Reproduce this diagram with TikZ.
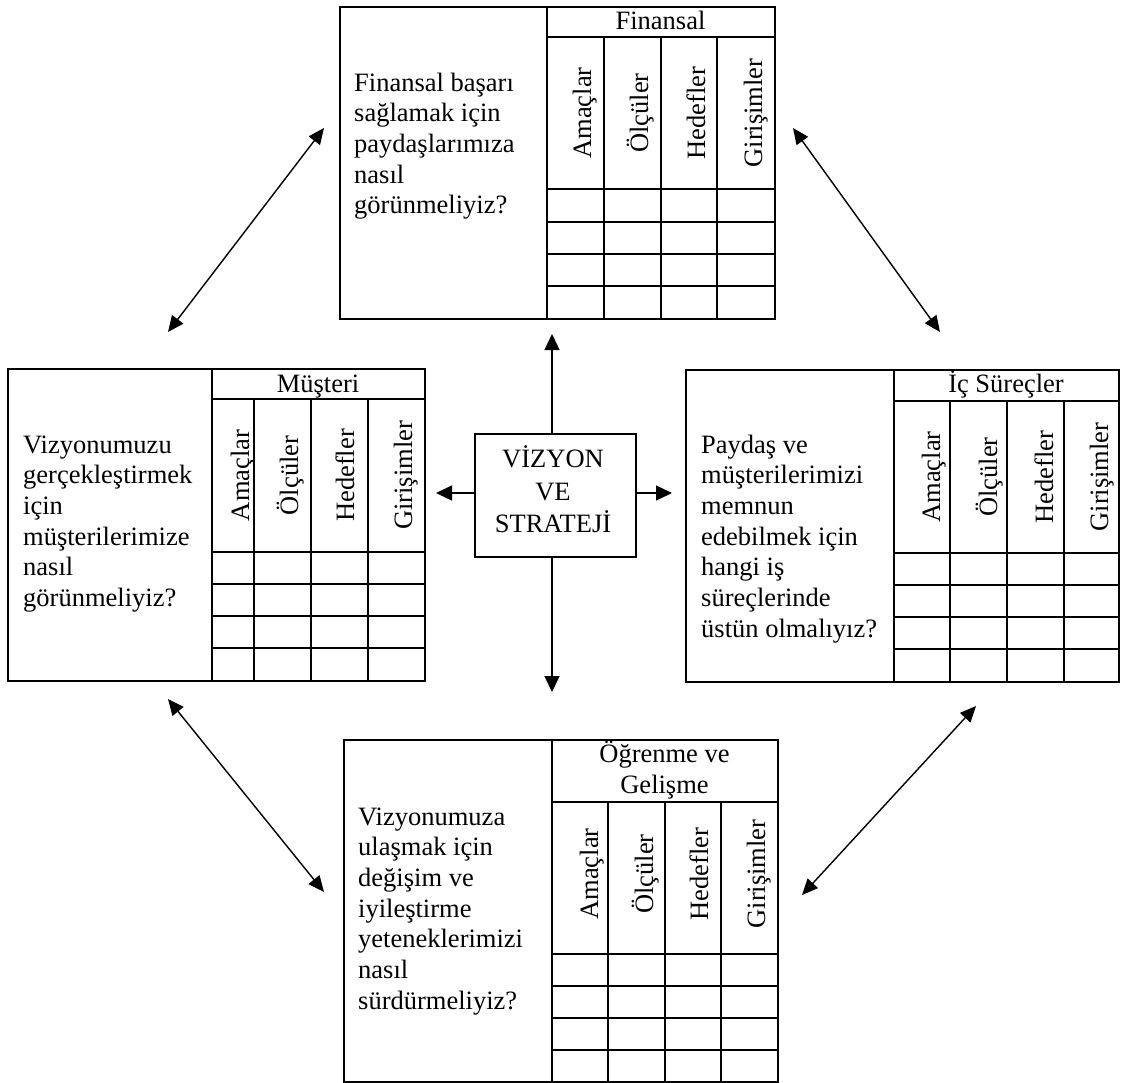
\documentclass[tikz,border=0pt]{standalone}
\usepackage{fontspec}
\setmainfont{Liberation Serif}
\usetikzlibrary{arrows.meta}
\tikzset{
  txt/.style={inner sep=0pt, font=\fontsize{26.5pt}{30.7pt}\selectfont},
  panel/.style={draw, line width=1.9pt, anchor=north west, inner sep=0pt},
  tbl/.style={line width=1.8pt},
  vlab/.style={txt, rotate=90, anchor=base},
  hlab/.style={txt, anchor=base},
  qline/.style={txt, anchor=base west},
  arr/.style={line width=1.4pt, -{Triangle[length=16pt,width=15pt]}},
  darr/.style={line width=1.4pt, {Triangle[length=16pt,width=14pt]}-{Triangle[length=16pt,width=14pt]}}
}
\begin{document}
\begin{tikzpicture}[x=1pt,y=-1pt]
\useasboundingbox (0,0) rectangle (1121,1082);

% ---------- Finansal (top) ----------
\node[panel, minimum width=435pt, minimum height=312pt] (fin) at (339,6) {};
\draw[tbl] (547,6) -- (547,318);
\draw[tbl] (547,37) -- (774,37);
\foreach \c in {604,661,717} \draw[tbl] (\c,37) -- (\c,318);
\foreach \r in {189,222,254,286} \draw[tbl] (547,\r) -- (774,\r);
\node[hlab] (finh) at (660.5,29) {Finansal};
\node[vlab] (fin1) at (591,113) {Amaçlar};
\node[vlab] (fin2) at (648,113) {Ölçüler};
\node[vlab] (fin3) at (705,113) {Hedefler};
\node[vlab] (fin4) at (762,113) {Girişimler};
\foreach \t [count=\i from 0] in {Finansal başarı, sağlamak için, paydaşlarımıza, nasıl, görünmeliyiz?}
  \node[qline] (finq\i) at (354,91+30.7*\i) {\t};

% ---------- Müşteri (left) ----------
\node[panel, minimum width=417pt, minimum height=312pt] (mus) at (7,368) {};
\draw[tbl] (212,368) -- (212,680);
\draw[tbl] (212,399) -- (424,399);
\foreach \c in {254,311,368} \draw[tbl] (\c,399) -- (\c,680);
\foreach \r in {552,584,616,648} \draw[tbl] (212,\r) -- (424,\r);
\node[hlab] (mush) at (318,392) {Müşteri};
\node[vlab] (mus1) at (249,475.5) {Amaçlar};
\node[vlab] (mus2) at (298,475.5) {Ölçüler};
\node[vlab] (mus3) at (354,475.5) {Hedefler};
\node[vlab] (mus4) at (412,475.5) {Girişimler};
\foreach \t [count=\i from 0] in {Vizyonumuzu, gerçekleştirmek, için, müşterilerimize, nasıl, görünmeliyiz?}
  \node[qline] (musq\i) at (23,453+30.7*\i) {\t};

% ---------- İç Süreçler (right) ----------
\node[panel, minimum width=433pt, minimum height=312pt] (ics) at (685,369) {};
\draw[tbl] (894,369) -- (894,681);
\draw[tbl] (894,401) -- (1118,401);
\foreach \c in {950,1007,1064} \draw[tbl] (\c,401) -- (\c,681);
\foreach \r in {553,585,617,649} \draw[tbl] (894,\r) -- (1118,\r);
\node[hlab] (icsh) at (1006,392) {İç Süreçler};
\node[vlab] (ics1) at (940,477) {Amaçlar};
\node[vlab] (ics2) at (997,477) {Ölçüler};
\node[vlab] (ics3) at (1053,477) {Hedefler};
\node[vlab] (ics4) at (1108,477) {Girişimler};
\foreach \t [count=\i from 0] in {Paydaş ve, müşterilerimizi, memnun, edebilmek için, hangi iş, süreçlerinde, üstün olmalıyız?}
  \node[qline] (icsq\i) at (701,453+30.7*\i) {\t};

% ---------- Öğrenme ve Gelişme (bottom) ----------
\node[panel, minimum width=434pt, minimum height=342pt] (ogr) at (343,739) {};
\draw[tbl] (552,739) -- (552,1081);
\draw[tbl] (552,802) -- (777,802);
\foreach \c in {608,665,721} \draw[tbl] (\c,802) -- (\c,1081);
\foreach \r in {954,986,1018,1050} \draw[tbl] (552,\r) -- (777,\r);
\node[hlab] (ogrh1) at (664.5,762) {Öğrenme ve};
\node[hlab] (ogrh2) at (664.5,793) {Gelişme};
\node[vlab] (ogr1) at (598,874) {Amaçlar};
\node[vlab] (ogr2) at (653,874) {Ölçüler};
\node[vlab] (ogr3) at (708,874) {Hedefler};
\node[vlab] (ogr4) at (765,874) {Girişimler};
\foreach \t [count=\i from 0] in {Vizyonumuza, ulaşmak için, değişim ve, iyileştirme, yeteneklerimizi, nasıl, sürdürmeliyiz?}
  \node[qline] (ogrq\i) at (358,825+30.7*\i) {\t};

% ---------- Vizyon ve Strateji (center) ----------
\node[panel, minimum width=161pt, minimum height=123pt] (vs) at (474,433) {};
\node[hlab] (vs1) at (553,467) {VİZYON};
\node[hlab] (vs2) at (553,500) {VE};
\node[hlab] (vs3) at (553,532.5) {STRATEJİ};

\coordinate (upT) at (552,334);
\coordinate (dnT) at (552,692);
\coordinate (lfT) at (436,493);
\coordinate (rtT) at (672,493);
\draw[arr] (vs.north -| upT) -- (upT);
\draw[arr] (vs.south -| dnT) -- (dnT);
\draw[arr] (vs.west |- lfT) -- (lfT);
\draw[arr] (vs.east |- rtT) -- (rtT);

% ---------- diagonal double arrows ----------
\coordinate (tlA) at (168,332);
\coordinate (tlB) at (324,128);
\coordinate (trA) at (793,128);
\coordinate (trB) at (940,332);
\coordinate (blA) at (168,699);
\coordinate (blB) at (324,892);
\coordinate (brA) at (802,895);
\coordinate (brB) at (976,706);
\draw[darr] (tlA) -- (tlB);
\draw[darr] (trA) -- (trB);
\draw[darr] (blA) -- (blB);
\draw[darr] (brA) -- (brB);
\end{tikzpicture}
\end{document}
